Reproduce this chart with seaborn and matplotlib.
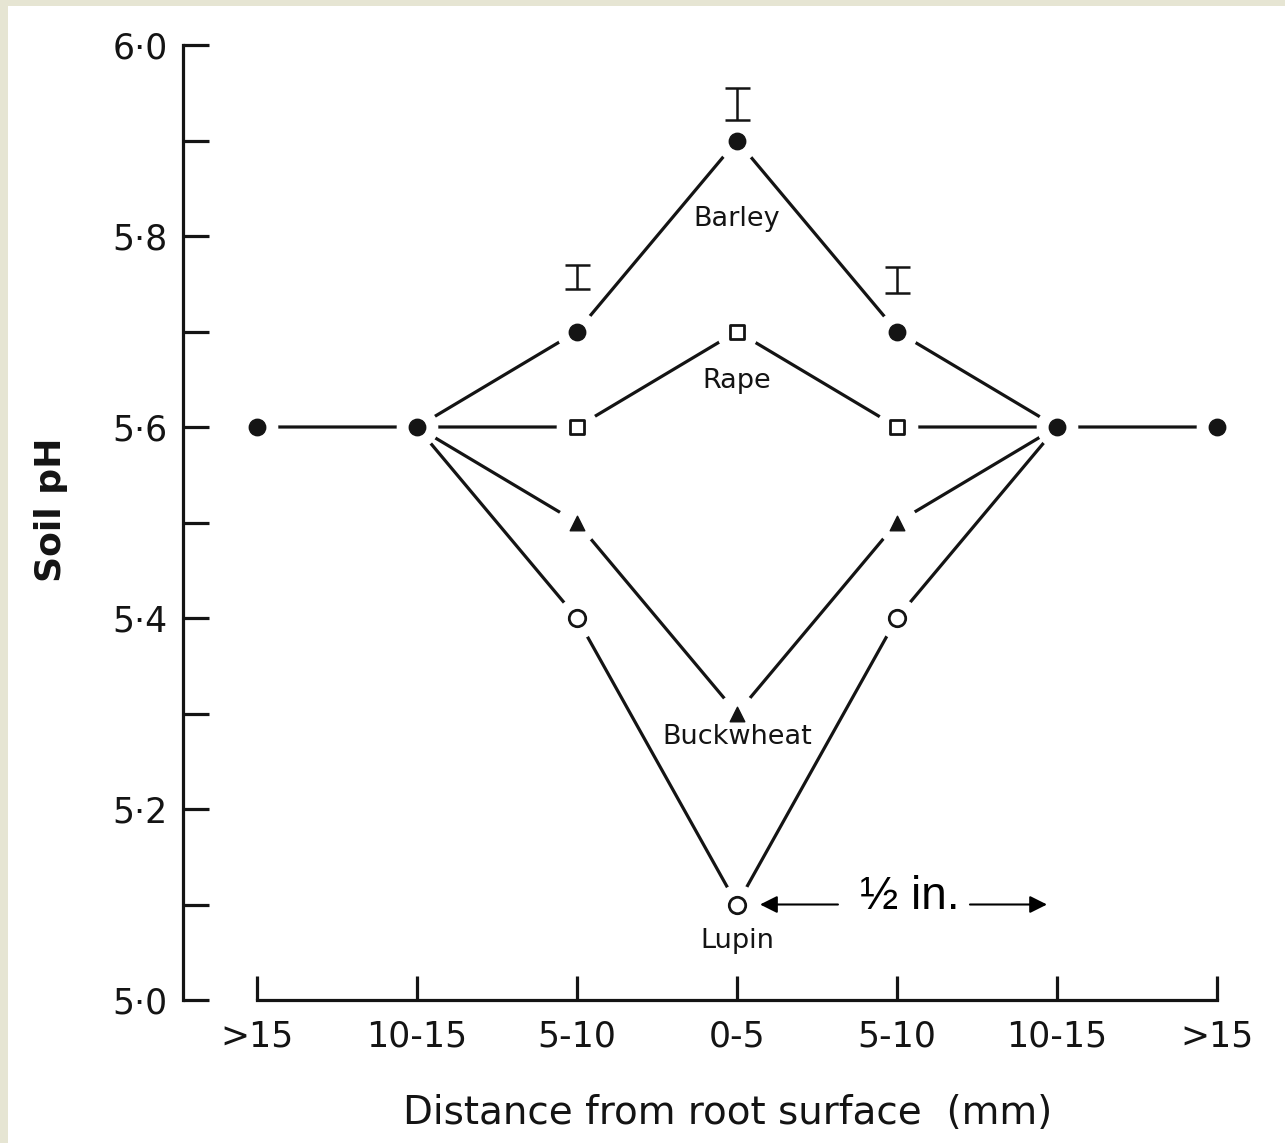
import matplotlib
matplotlib.use("Agg")
import matplotlib.pyplot as plt
import pandas as pd
import seaborn as sns
from matplotlib.patches import Rectangle

# Distance classes either side of the root (mm), plotted left to right
distance_labels = [">15", "10-15", "5-10", "0-5", "5-10", "10-15", ">15"]
distance_pos = [0, 1, 2, 3, 4, 5, 6]

# Soil pH in each distance class
barley_pos = [0, 1, 2, 3, 4, 5, 6]
barley_ph = [5.6, 5.6, 5.7, 5.9, 5.7, 5.6, 5.6]
inner_pos = [1, 2, 3, 4, 5]
rape_ph = [5.6, 5.6, 5.7, 5.6, 5.6]
buckwheat_ph = [5.6, 5.5, 5.3, 5.5, 5.6]
lupin_ph = [5.6, 5.4, 5.1, 5.4, 5.6]

# Least significant difference bars above the barley profile
lsd_pos = [2, 3, 4]
lsd_centre = [5.757, 5.938, 5.754]
lsd_half = [0.013, 0.017, 0.014]

# Crop names written under the 0-5 mm point of each profile
crop_names = ["Barley", "Rape", "Buckwheat", "Lupin"]
crop_label_ph = [5.818, 5.648, 5.275, 5.062]

y_major = [5.0, 5.2, 5.4, 5.6, 5.8, 6.0]
y_minor = [5.1, 5.3, 5.5, 5.7, 5.9]

INK = "#141414"

sns.set_theme(style="ticks")
plt.rcParams["font.family"] = ["DejaVu Sans"]

frames = [pd.DataFrame({"crop": "Barley", "pos": barley_pos, "ph": barley_ph})]
for name, vals in zip(crop_names[1:], [rape_ph, buckwheat_ph, lupin_ph]):
    frames.append(pd.DataFrame({"crop": name, "pos": inner_pos, "ph": vals}))
df = pd.concat(frames, ignore_index=True)

W, H = 1285, 1143
fig = plt.figure(figsize=(W / 100, H / 100), dpi=100)
fig.patch.set_facecolor("#e6e5d3")
fig.patches.append(Rectangle((8 / W, 0), 1 - 8 / W, 1 - 6 / H,
                             transform=fig.transFigure, facecolor="white",
                             edgecolor="none", zorder=-1))

ax = fig.add_axes([183 / W, 143 / H, 1102 / W, 955 / H])
ax.set_facecolor("none")
ax.set_zorder(2)

# Profile lines
sns.lineplot(data=df, x="pos", y="ph", units="crop", estimator=None,
             sort=False, color=INK, lw=2.3, ax=ax, zorder=2, legend=False)

# Every plotted point gets a white halo so lines stop short of it
marked = df[(df["crop"] == "Barley") | df["pos"].isin([2, 3, 4])]
sns.scatterplot(data=marked, x="pos", y="ph", color="white", s=900,
                linewidth=0, ax=ax, zorder=3, legend=False)

marker_style = {
    "Barley": dict(marker="o", color=INK, edgecolor=INK, s=140, linewidth=1),
    "Rape": dict(marker="s", color="white", edgecolor=INK, s=100, linewidth=2.0),
    "Buckwheat": dict(marker="^", color=INK, edgecolor=INK, s=110, linewidth=1),
    "Lupin": dict(marker="o", color="white", edgecolor=INK, s=140, linewidth=2.0),
}
for name in crop_names:
    sub = marked[marked["crop"] == name]
    sns.scatterplot(data=sub, x="pos", y="ph", ax=ax, zorder=4, legend=False,
                    **marker_style[name])

ax.errorbar(lsd_pos, lsd_centre, yerr=lsd_half, fmt="none", ecolor=INK,
            elinewidth=1.8, capsize=9, capthick=1.8, zorder=4)

for name, yv in zip(crop_names, crop_label_ph):
    ax.text(3, yv, name, ha="center", va="center", fontsize=19.5,
            color=INK, zorder=5)

# Half-inch scale marker
ax.text(4.08, 5.108, "\u00bd in.", ha="center", va="center", fontsize=33,
        family=["Liberation Sans", "DejaVu Sans"], color="black", zorder=5)
arrow = dict(arrowstyle="-|>", color="black", lw=1.5, mutation_scale=26,
             shrinkA=0, shrinkB=0)
ax.annotate("", xy=(3.144, 5.1), xytext=(3.631, 5.1), arrowprops=arrow, zorder=5)
ax.annotate("", xy=(4.9375, 5.1), xytext=(4.456, 5.1), arrowprops=arrow, zorder=5)

# Axes
ax.set_xlim((183 - 257) / 160, (W - 257) / 160)
ax.set_ylim(5.0, 6.0)
sns.despine(ax=ax)
ax.spines["left"].set_bounds(5.0, 6.0)
ax.spines["bottom"].set_bounds(0, 6)
for sp in ("left", "bottom"):
    ax.spines[sp].set_linewidth(2.3)
    ax.spines[sp].set_color(INK)

ax.set_xticks(distance_pos)
ax.set_xticklabels(distance_labels, fontsize=25, color=INK)
ax.set_yticks(y_major)
ax.set_yticklabels([f"{v:.1f}".replace(".", "\u00b7") for v in y_major],
                   fontsize=25, color=INK)
ax.set_yticks(y_minor, minor=True)
ax.tick_params(axis="y", which="both", direction="in", length=19, width=2.3,
               color=INK, pad=11)
ax.tick_params(axis="x", direction="in", length=17, width=2.3, color=INK, pad=14)

ax.set_xlabel("Distance from root surface  (mm)", fontsize=28, color=INK)
ax.xaxis.set_label_coords(0.4946, -0.098)
ax.set_ylabel("Soil pH", fontsize=26, fontweight="bold", color=INK)
ax.yaxis.set_label_coords(-0.104, 0.513)

fig.savefig("out.png", dpi=100, facecolor=fig.get_facecolor())
